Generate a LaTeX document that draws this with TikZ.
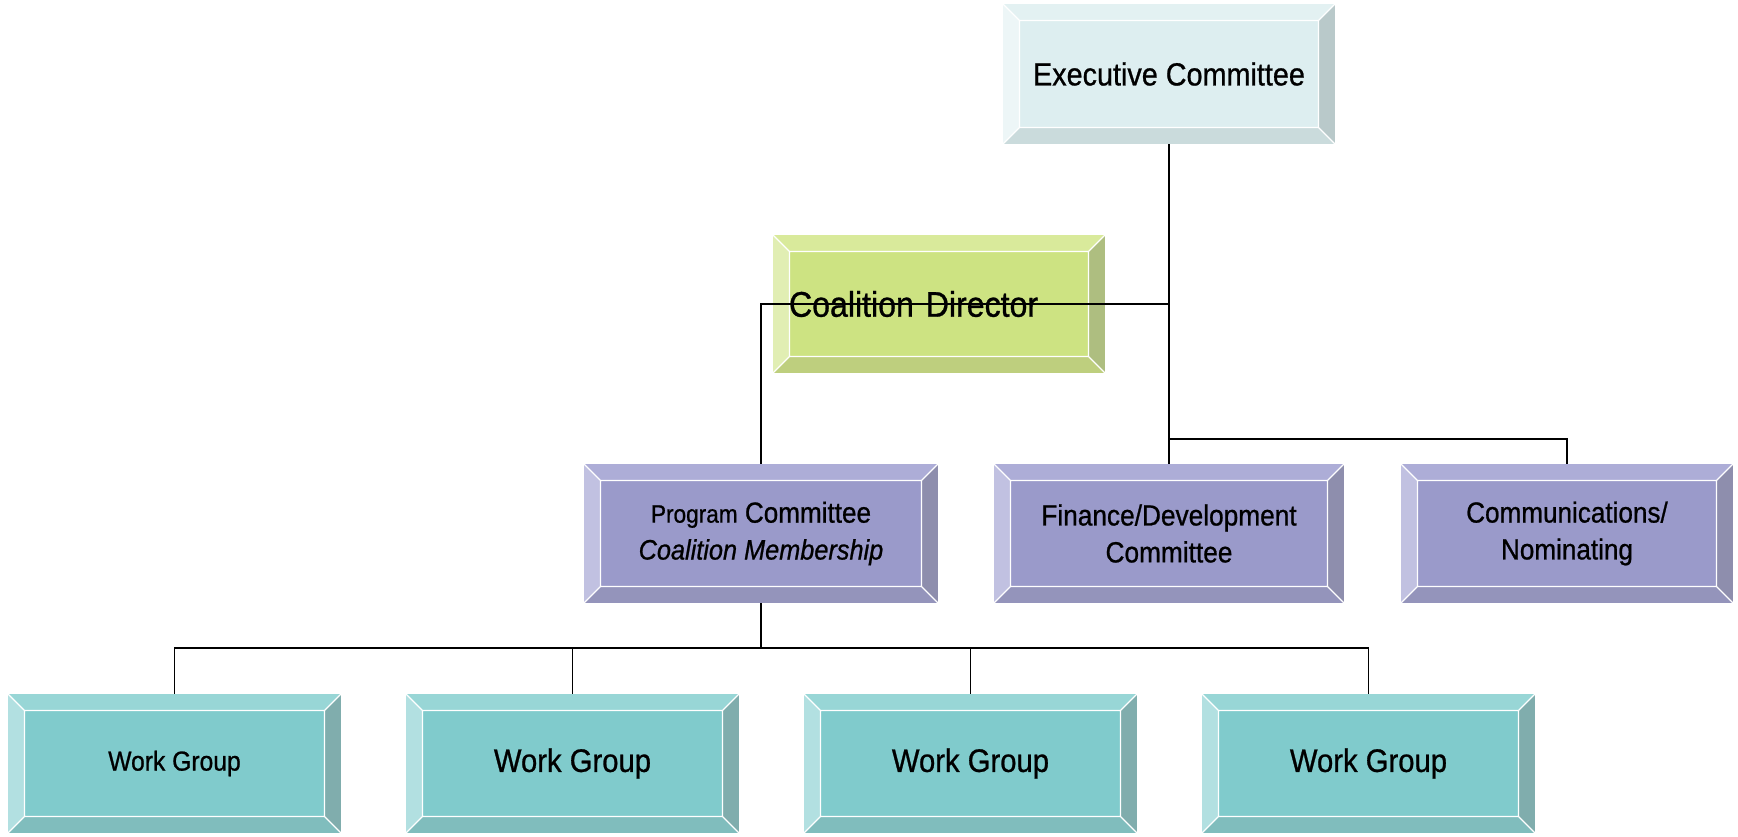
\documentclass[tikz,border=0pt]{standalone}
\usepackage{fontspec}
\setmainfont[FakeStretch=0.9,FakeBold=0.8]{Liberation Sans}
\usetikzlibrary{positioning}

% bevel colours: face, top, left, right, bottom
\definecolor{execFace}{HTML}{DDEEF0}
\definecolor{execTop}{HTML}{E3F1F2}
\definecolor{execLeft}{HTML}{EDF6F7}
\definecolor{execRight}{HTML}{B9C9CA}
\definecolor{execBottom}{HTML}{CADBDC}
\definecolor{dirFace}{HTML}{CDE382}
\definecolor{dirTop}{HTML}{D9EA9B}
\definecolor{dirLeft}{HTML}{E1EEB3}
\definecolor{dirRight}{HTML}{AEBE80}
\definecolor{dirBottom}{HTML}{BECF7E}
\definecolor{comFace}{HTML}{9A9ACA}
\definecolor{comTop}{HTML}{ADADD7}
\definecolor{comLeft}{HTML}{C1C1E1}
\definecolor{comRight}{HTML}{8E8EAD}
\definecolor{comBottom}{HTML}{9494BB}
\definecolor{wgFace}{HTML}{80CBCC}
\definecolor{wgTop}{HTML}{98D6D6}
\definecolor{wgLeft}{HTML}{B2E0E1}
\definecolor{wgRight}{HTML}{80ADAD}
\definecolor{wgBottom}{HTML}{80BDBD}

\newcommand\bevw{0.33cm}

\tikzset{
  bevel/.style={rectangle, inner sep=0pt, fill=#1Face, align=center,
    minimum width=6.64cm, minimum height=2.78cm,
    path picture={
      \coordinate (bvNW) at (path picture bounding box.north west);
      \coordinate (bvNE) at (path picture bounding box.north east);
      \coordinate (bvSE) at (path picture bounding box.south east);
      \coordinate (bvSW) at (path picture bounding box.south west);
      \coordinate (bvnw) at ([shift={(\bevw,-\bevw)}]bvNW);
      \coordinate (bvne) at ([shift={(-\bevw,-\bevw)}]bvNE);
      \coordinate (bvse) at ([shift={(-\bevw,\bevw)}]bvSE);
      \coordinate (bvsw) at ([shift={(\bevw,\bevw)}]bvSW);
      \fill[#1Top] (bvNW) -- (bvNE) -- (bvne) -- (bvnw) -- cycle;
      \fill[#1Right] (bvNE) -- (bvSE) -- (bvse) -- (bvne) -- cycle;
      \fill[#1Bottom] (bvSE) -- (bvSW) -- (bvsw) -- (bvse) -- cycle;
      \fill[#1Left] (bvSW) -- (bvNW) -- (bvnw) -- (bvsw) -- cycle;
      \draw[white, line width=0.7pt] (bvnw) rectangle (bvse)
        (bvNW) -- (bvnw) (bvNE) -- (bvne) (bvSE) -- (bvse) (bvSW) -- (bvsw);
    }},
  link/.style={line width=1.1pt}
}

\begin{document}
\begin{tikzpicture}[x=0.02cm,y=0.02cm]
  \useasboundingbox (0,0) rectangle (1738,836);

  \node[bevel=exec, minimum height=2.8cm, font=\fontsize{18.2}{22}\selectfont] (exec) at (1169,762) {Executive Committee};
  \node[bevel=dir, minimum height=2.76cm, text width=6.0cm, align=left, font=\fontsize{20.3}{24}\selectfont] (dir) at (939,532) {Coalition Director};

  \node[bevel=com, minimum width=7.08cm, font=\fontsize{16.5}{21}\selectfont] (prog) at (761,302.5)
    {{\fontsize{14.3}{21}\selectfont Program} Committee\\\itshape\fontsize{16}{21}\selectfont Coalition Membership};
  \node[bevel=com, minimum width=7.0cm, font=\fontsize{16.6}{21}\selectfont] (fin) at (1169,302.5) {Finance/Development\\Committee};
  \node[bevel=com, font=\fontsize{16.5}{21}\selectfont] (comm) at (1567,302.5) {Communications/\\Nominating};

  \node[bevel=wg, minimum width=6.66cm, font=\fontsize{15.6}{18}\selectfont] (wg1) at (174.5,72.5) {Work Group};
  \node[bevel=wg, minimum width=6.66cm, font=\fontsize{18.5}{20}\selectfont] (wg2) at (572.5,72.5) {Work Group};
  \node[bevel=wg, minimum width=6.66cm, font=\fontsize{18.5}{20}\selectfont] (wg3) at (970.5,72.5) {Work Group};
  \node[bevel=wg, minimum width=6.66cm, font=\fontsize{18.5}{20}\selectfont] (wg4) at (1368.5,72.5) {Work Group};

  % connectors
  \draw[link] (exec.south) -- (fin.north);
  \draw[link] (exec.south |- dir.center) -| (prog.north);
  \coordinate (split) at (exec.south |- 0,397);
  \draw[link] (split) -| (comm.north);
  \draw[link] (prog.south) -- ++(0,-45) coordinate (bus);
  \foreach \i in {1,...,4}
    \draw[link] (bus) -| (wg\i.north);
\end{tikzpicture}
\end{document}
